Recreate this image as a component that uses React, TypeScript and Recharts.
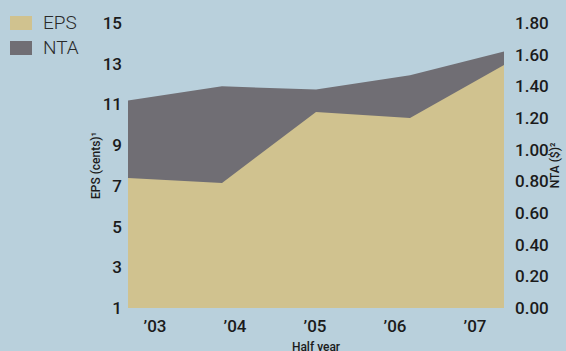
import React from "react";
import { AreaChart, Area, XAxis, YAxis, Legend } from "recharts";

const periods = ["’03", "’04", "’05", "’06", "’07"];
const epsValues = [7.39, 7.14, 10.63, 10.33, 12.94];
const ntaValues = [1.31, 1.4, 1.38, 1.47, 1.62];
const leftTicks = [1, 3, 5, 7, 9, 11, 13, 15];
const rightTicks = [0, 0.2, 0.4, 0.6, 0.8, 1.0, 1.2, 1.4, 1.6, 1.8];
const seriesOrder = ["EPS", "NTA"];

const data = periods.map((p, i) => ({ period: p, EPS: epsValues[i], NTA: ntaValues[i] }));

const BG = "#b9d0dc";
const EPS_COLOR = "#d0c28f";
const NTA_COLOR = "#706e74";
const TEXT = "#1b1b1b";

const tickStyle = { fontFamily: "Roboto, sans-serif", fontSize: 17, fontWeight: 500, fill: TEXT };
const labelStyle = { fontFamily: "Roboto, sans-serif", fontSize: 12, fontWeight: 500, fill: TEXT, textAnchor: "middle" as const };

function LegendBox(props: any) {
  const payload = [...(props.payload || [])].sort(
    (a: any, b: any) => seriesOrder.indexOf(a.value) - seriesOrder.indexOf(b.value)
  );
  return (
    <div>
      {payload.map((item: any) => (
        <div key={item.value} style={{ display: "flex", alignItems: "center", height: 25 }}>
          <div style={{ width: 22, height: 14, background: item.color, marginRight: 11 }} />
          <span style={{ fontFamily: "Roboto, sans-serif", fontWeight: 300, fontSize: 19, color: "#2a2a2a", lineHeight: "25px" }}>
            {item.value}
          </span>
        </div>
      ))}
    </div>
  );
}

export default function App() {
  return (
    <div style={{ position: "absolute", left: 0, top: 0, width: 566, height: 351, background: BG }}>
      <AreaChart width={566} height={351} data={data} margin={{ top: 23, right: 0, bottom: 0, left: 0 }}>
        <XAxis dataKey="period" hide height={0} />
        <XAxis
          xAxisId="lbl"
          dataKey="period"
          height={43}
          padding={{ left: 27, right: 29 }}
          axisLine={false}
          tickLine={false}
          tickSize={0}
          tickMargin={12}
          tick={tickStyle}
          label={{ value: "Half year", position: "insideBottom", offset: 0, style: labelStyle }}
        />
        <YAxis
          yAxisId="left"
          orientation="left"
          width={128}
          domain={[1, 15]}
          ticks={leftTicks}
          axisLine={false}
          tickLine={false}
          tickSize={0}
          tickMargin={6}
          tick={tickStyle}
          label={{ value: "EPS (cents)¹", angle: -90, position: "insideLeft", offset: 96, style: labelStyle }}
        />
        <YAxis
          yAxisId="right"
          orientation="right"
          width={62}
          domain={[0, 1.8]}
          ticks={rightTicks}
          axisLine={false}
          tickLine={false}
          tickSize={0}
          tickMargin={11}
          tick={{ ...tickStyle, textAnchor: "start" }}
          tickFormatter={(v: number) => v.toFixed(2)}
          label={{ value: "NTA ($)²", angle: -90, position: "insideRight", offset: 11, style: labelStyle }}
        />
        <Legend
          layout="horizontal"
          verticalAlign="middle"
          align="center"
          content={(p: any) => <LegendBox payload={p.payload} />}
          wrapperStyle={{ position: "absolute", left: 10, top: 10, width: "auto", height: "auto" }}
        />
        <Area
          yAxisId="right"
          type="linear"
          dataKey="NTA"
          name="NTA"
          stroke="none"
          fill={NTA_COLOR}
          fillOpacity={1}
          isAnimationActive={false}
        />
        <Area
          yAxisId="left"
          type="linear"
          dataKey="EPS"
          name="EPS"
          stroke="none"
          fill={EPS_COLOR}
          fillOpacity={1}
          isAnimationActive={false}
        />
      </AreaChart>
    </div>
  );
}
